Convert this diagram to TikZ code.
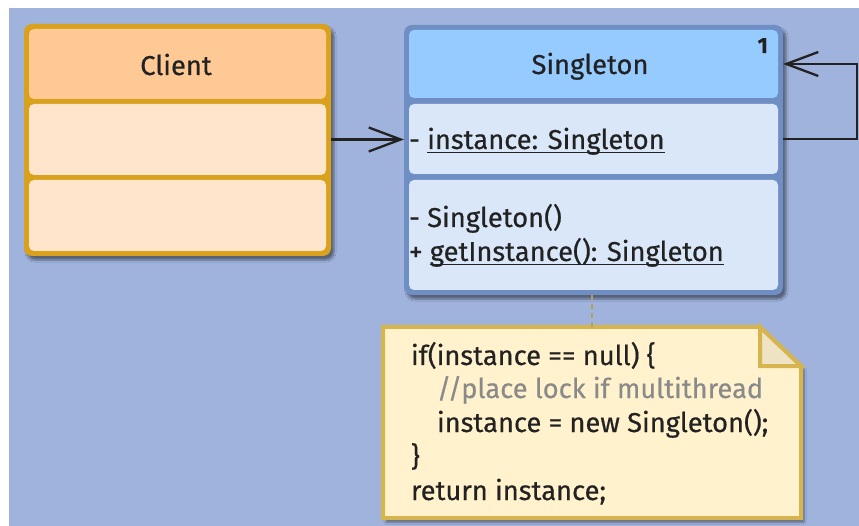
\documentclass[tikz,border=0pt]{standalone}
\usepackage{fontspec}
\setmainfont{Fira Sans}[FakeBold=0.5]
\usetikzlibrary{arrows.meta,shadows,shadows.blur}
\definecolor{bg}{HTML}{9FB3DC}
\definecolor{cborder}{HTML}{D9A11C}
\definecolor{chead}{HTML}{FFC996}
\definecolor{cbody}{HTML}{FFE5CC}
\definecolor{sborder}{HTML}{6F8FC4}
\definecolor{shead}{HTML}{96CBFF}
\definecolor{sbody}{HTML}{DAE7F9}
\definecolor{nborder}{HTML}{D6B44E}
\definecolor{nfill}{HTML}{FFF2CC}
\definecolor{nfold}{HTML}{EEE3C2}
\definecolor{ink}{HTML}{222222}
\definecolor{comment}{HTML}{8A8A8A}
\newcommand\umlul[1]{\setbox0\hbox{#1}\rlap{\rule[-4.5pt]{\wd0}{1.4pt}}\box0}
\begin{document}
\begin{tikzpicture}[x=1pt,y=-1pt,
  outerbox/.style={inner sep=0pt, outer sep=0pt, rounded corners=8pt,
     blur shadow={shadow xshift=3pt, shadow yshift=-4pt, shadow blur steps=6, shadow opacity=45}},
  comp/.style={inner sep=0pt, outer sep=0pt, rounded corners=5pt},
  txt/.style={inner sep=0pt, outer sep=0pt, font=\fontsize{27.3}{30}\selectfont, text=ink, anchor=base west},
  title/.style={inner sep=0pt, outer sep=0pt, font=\fontsize{27.3}{30}\selectfont, text=ink, anchor=base},
  assoc/.style={draw=ink, line width=2.3pt, -{Straight Barb[length=32pt,width=24pt,line width=2.3pt]}},
  notelink/.style={draw=nborder!60!gray, line width=2pt, dash pattern=on 5pt off 4pt}]
\useasboundingbox (0,0) rectangle (859,526);
\fill[white] (0,0) rectangle (859,526);
\fill[bg] (9,8) rectangle (859,526);

% Client class
\node[outerbox, fill=cborder, minimum width=307pt, minimum height=232pt] (client) at (177.5,140) {};
\node[comp, fill=chead, minimum width=297pt, minimum height=70pt] (chead) at (177.5,64) {};
\node[comp, fill=cbody, minimum width=297pt, minimum height=71pt] (cattr) at (177.5,139.5) {};
\node[comp, fill=cbody, minimum width=297pt, minimum height=71pt] (cops) at (177.5,215.5) {};
\node[title] (ctitle) at (176,75) {Client};

% Singleton class
\node[outerbox, fill=sborder, minimum width=379pt, minimum height=270pt] (sing) at (593.5,160) {};
\node[comp, fill=shead, minimum width=369pt, minimum height=68pt] (shead) at (593.5,64) {};
\node[comp, fill=sbody, minimum width=369pt, minimum height=70pt] (sattr) at (593.5,139) {};
\node[comp, fill=sbody, minimum width=369pt, minimum height=110pt] (sops) at (593.5,235) {};
\node[title] (stitle) at (590,74) {Singleton};
\node[inner sep=0pt, font=\fontsize{22}{24}\selectfont\bfseries, text=ink, anchor=base east] (mult) at (768,53) {1};
\node[txt] (attr1) at (409,149) {- \umlul{instance: Singleton}};
\node[txt] (op1) at (409,227) {- Singleton()};
\node[txt] (op2) at (409,261) {+ \umlul{getInstance(): Singleton}};

% Note
\node[inner sep=0pt, outer sep=0pt, minimum width=418pt, minimum height=191pt] (note) at (592,422.5) {};
\draw[nborder, line width=4pt, fill=nfill, line join=miter,
  blur shadow={shadow xshift=3pt, shadow yshift=-4pt, shadow blur steps=6, shadow opacity=45}]
  (note.north west) -- ([xshift=-41pt]note.north east) -- ([yshift=-39pt]note.north east)
  -- (note.south east) -- (note.south west) -- cycle;
\draw[nborder, line width=4pt, fill=nfold, line join=miter]
  ([xshift=-41pt]note.north east) -- ([xshift=-41pt,yshift=-39pt]note.north east) -- ([yshift=-39pt]note.north east) -- cycle;
\node[txt] (n1) at (411,365) {if(instance == null) \{};
\node[txt, text=comment] (n2) at (437,398) {//place lock if multithread};
\node[txt] (n3) at (437,432) {instance = new Singleton();};
\node[txt] (n4) at (411,466) {\}};
\node[txt] (n5) at (411,500) {return instance;};

% connectors
\draw[assoc] (client.east |- cattr.center) -- (sing.west |- cattr.center);
\coordinate (loopr) at (857,139);
\draw[assoc] (sing.east |- sattr.center) -- (loopr) |- (sing.east |- shead.center);
\draw[notelink] (note.north |- sing.south) -- (note.north);
\end{tikzpicture}
\end{document}
